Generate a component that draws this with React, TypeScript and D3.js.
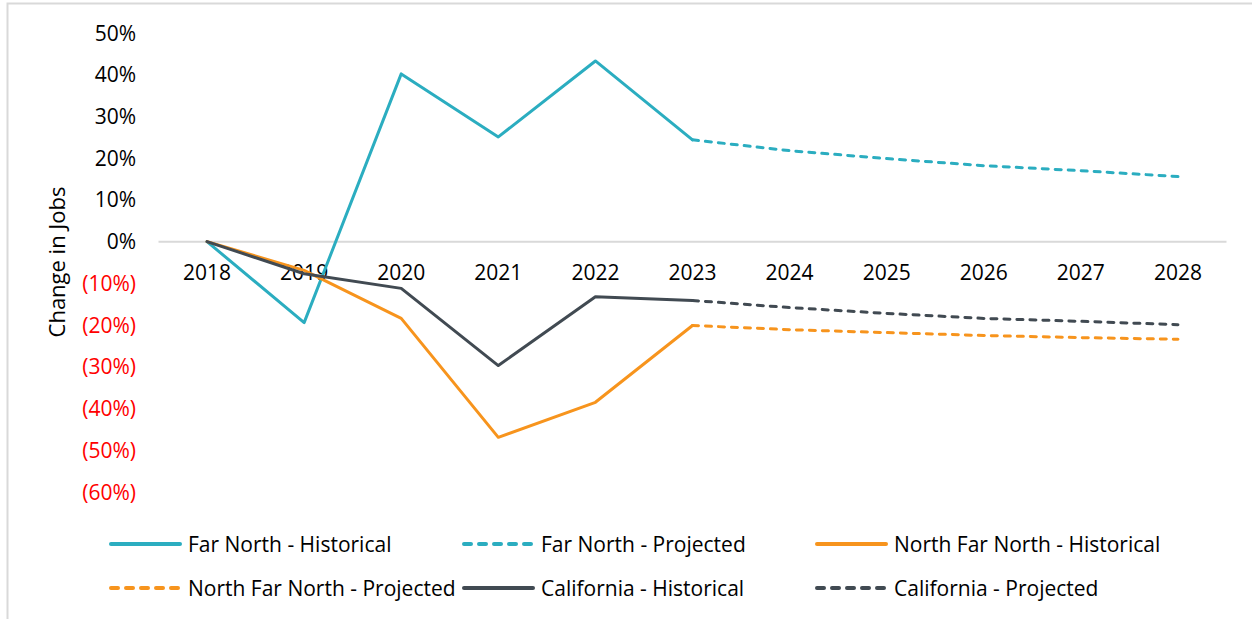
import React, { useRef, useEffect } from 'react';
import * as d3 from 'd3';

const years = ['2018', '2019', '2020', '2021', '2022', '2023', '2024', '2025', '2026', '2027', '2028'];
const histYears = ['2018', '2019', '2020', '2021', '2022', '2023'];
const projYears = ['2023', '2024', '2025', '2026', '2027', '2028'];

const farNorthHist = [0, -0.194, 0.402, 0.251, 0.433, 0.244];
const farNorthProj = [0.244, 0.218, 0.199, 0.182, 0.170, 0.156];
const northFarNorthHist = [0, -0.069, -0.184, -0.469, -0.385, -0.201];
const northFarNorthProj = [-0.201, -0.211, -0.218, -0.225, -0.230, -0.234];
const californiaHist = [0, -0.077, -0.112, -0.297, -0.132, -0.141];
const californiaProj = [-0.141, -0.158, -0.172, -0.184, -0.191, -0.199];

const yTicks = [0.5, 0.4, 0.3, 0.2, 0.1, 0, -0.1, -0.2, -0.3, -0.4, -0.5, -0.6];

const TEAL = '#2BADC0';
const ORANGE = '#F7941D';
const SLATE = '#414A52';

const series = [
  { name: 'Far North - Historical', x: histYears, values: farNorthHist, color: TEAL, dashed: false },
  { name: 'Far North - Projected', x: projYears, values: farNorthProj, color: TEAL, dashed: true },
  { name: 'North Far North - Historical', x: histYears, values: northFarNorthHist, color: ORANGE, dashed: false },
  { name: 'North Far North - Projected', x: projYears, values: northFarNorthProj, color: ORANGE, dashed: true },
  { name: 'California - Historical', x: histYears, values: californiaHist, color: SLATE, dashed: false },
  { name: 'California - Projected', x: projYears, values: californiaProj, color: SLATE, dashed: true },
];

const FONT = '"Open Sans", "Noto Sans", sans-serif';

const App = () => {
  const svgRef = useRef<SVGSVGElement>(null);

  useEffect(() => {
    const svg = d3.select(svgRef.current);
    svg.selectAll('*').remove();

    const x = d3.scaleBand().domain(years).range([158.5, 1226.5]);
    const y = d3.scaleLinear().domain([-0.6, 0.5]).range([492, 33]);
    const cx = (d: string) => (x(d) as number) + x.bandwidth() / 2;

    // Outer frame
    svg.append('rect')
      .attr('x', 7.5).attr('y', 3.5)
      .attr('width', 1300).attr('height', 700)
      .attr('fill', 'none').attr('stroke', '#d9d9d9').attr('stroke-width', 2);

    // Zero line
    svg.append('line')
      .attr('x1', 158.5).attr('x2', 1226.5)
      .attr('y1', y(0)).attr('y2', y(0))
      .attr('stroke', '#d9d9d9').attr('stroke-width', 2);

    // Y tick labels
    svg.append('g').selectAll('text')
      .data(yTicks)
      .enter().append('text')
      .attr('x', 136)
      .attr('y', d => y(d) + 7.5)
      .attr('text-anchor', 'end')
      .attr('font-family', FONT)
      .attr('font-size', 21)
      .attr('fill', d => (d < 0 ? '#ff0000' : '#000'))
      .text(d => {
        const p = Math.round(Math.abs(d) * 100);
        return d < 0 ? `(${p}%)` : `${p}%`;
      });

    // X labels
    svg.append('g').selectAll('text')
      .data(years)
      .enter().append('text')
      .attr('x', d => cx(d))
      .attr('y', 280)
      .attr('text-anchor', 'middle')
      .attr('font-family', FONT)
      .attr('font-size', 21)
      .attr('fill', '#000')
      .text(d => d);

    // Y axis title
    svg.append('text')
      .attr('transform', 'translate(65,262) rotate(-90)')
      .attr('text-anchor', 'middle')
      .attr('font-family', FONT)
      .attr('font-size', 22)
      .attr('fill', '#000')
      .text('Change in Jobs');

    // Lines
    series.forEach(s => {
      const pts = s.x.map((yr, i) => [cx(yr), y(s.values[i])] as [number, number]);
      svg.append('path')
        .datum(pts)
        .attr('fill', 'none')
        .attr('stroke', s.color)
        .attr('stroke-width', 3)
        .attr('stroke-linejoin', 'round')
        .attr('stroke-linecap', 'round')
        .attr('stroke-dasharray', s.dashed ? '6,7' : null)
        .attr('d', d3.line());
    });

    // Legend
    const legend = svg.append('g');
    series.forEach((s, i) => {
      const col = i % 3;
      const row = Math.floor(i / 3);
      const lx = 111 + col * 353;
      const ly = 544 + row * 44;
      legend.append('line')
        .attr('x1', lx).attr('x2', lx + 69)
        .attr('y1', ly).attr('y2', ly)
        .attr('stroke', s.color)
        .attr('stroke-width', 4)
        .attr('stroke-linecap', 'round')
        .attr('stroke-dasharray', s.dashed ? '7,8' : null);
      legend.append('text')
        .attr('x', lx + 77)
        .attr('y', ly + 7.5)
        .attr('font-family', FONT)
        .attr('font-size', 21)
        .attr('fill', '#000')
        .text(s.name);
    });
  }, []);

  return (
    <div style={{ position: 'absolute', left: 0, top: 0 }}>
      <svg ref={svgRef} width={1252} height={619} style={{ display: 'block', background: '#fff' }} />
    </div>
  );
};

export default App;
